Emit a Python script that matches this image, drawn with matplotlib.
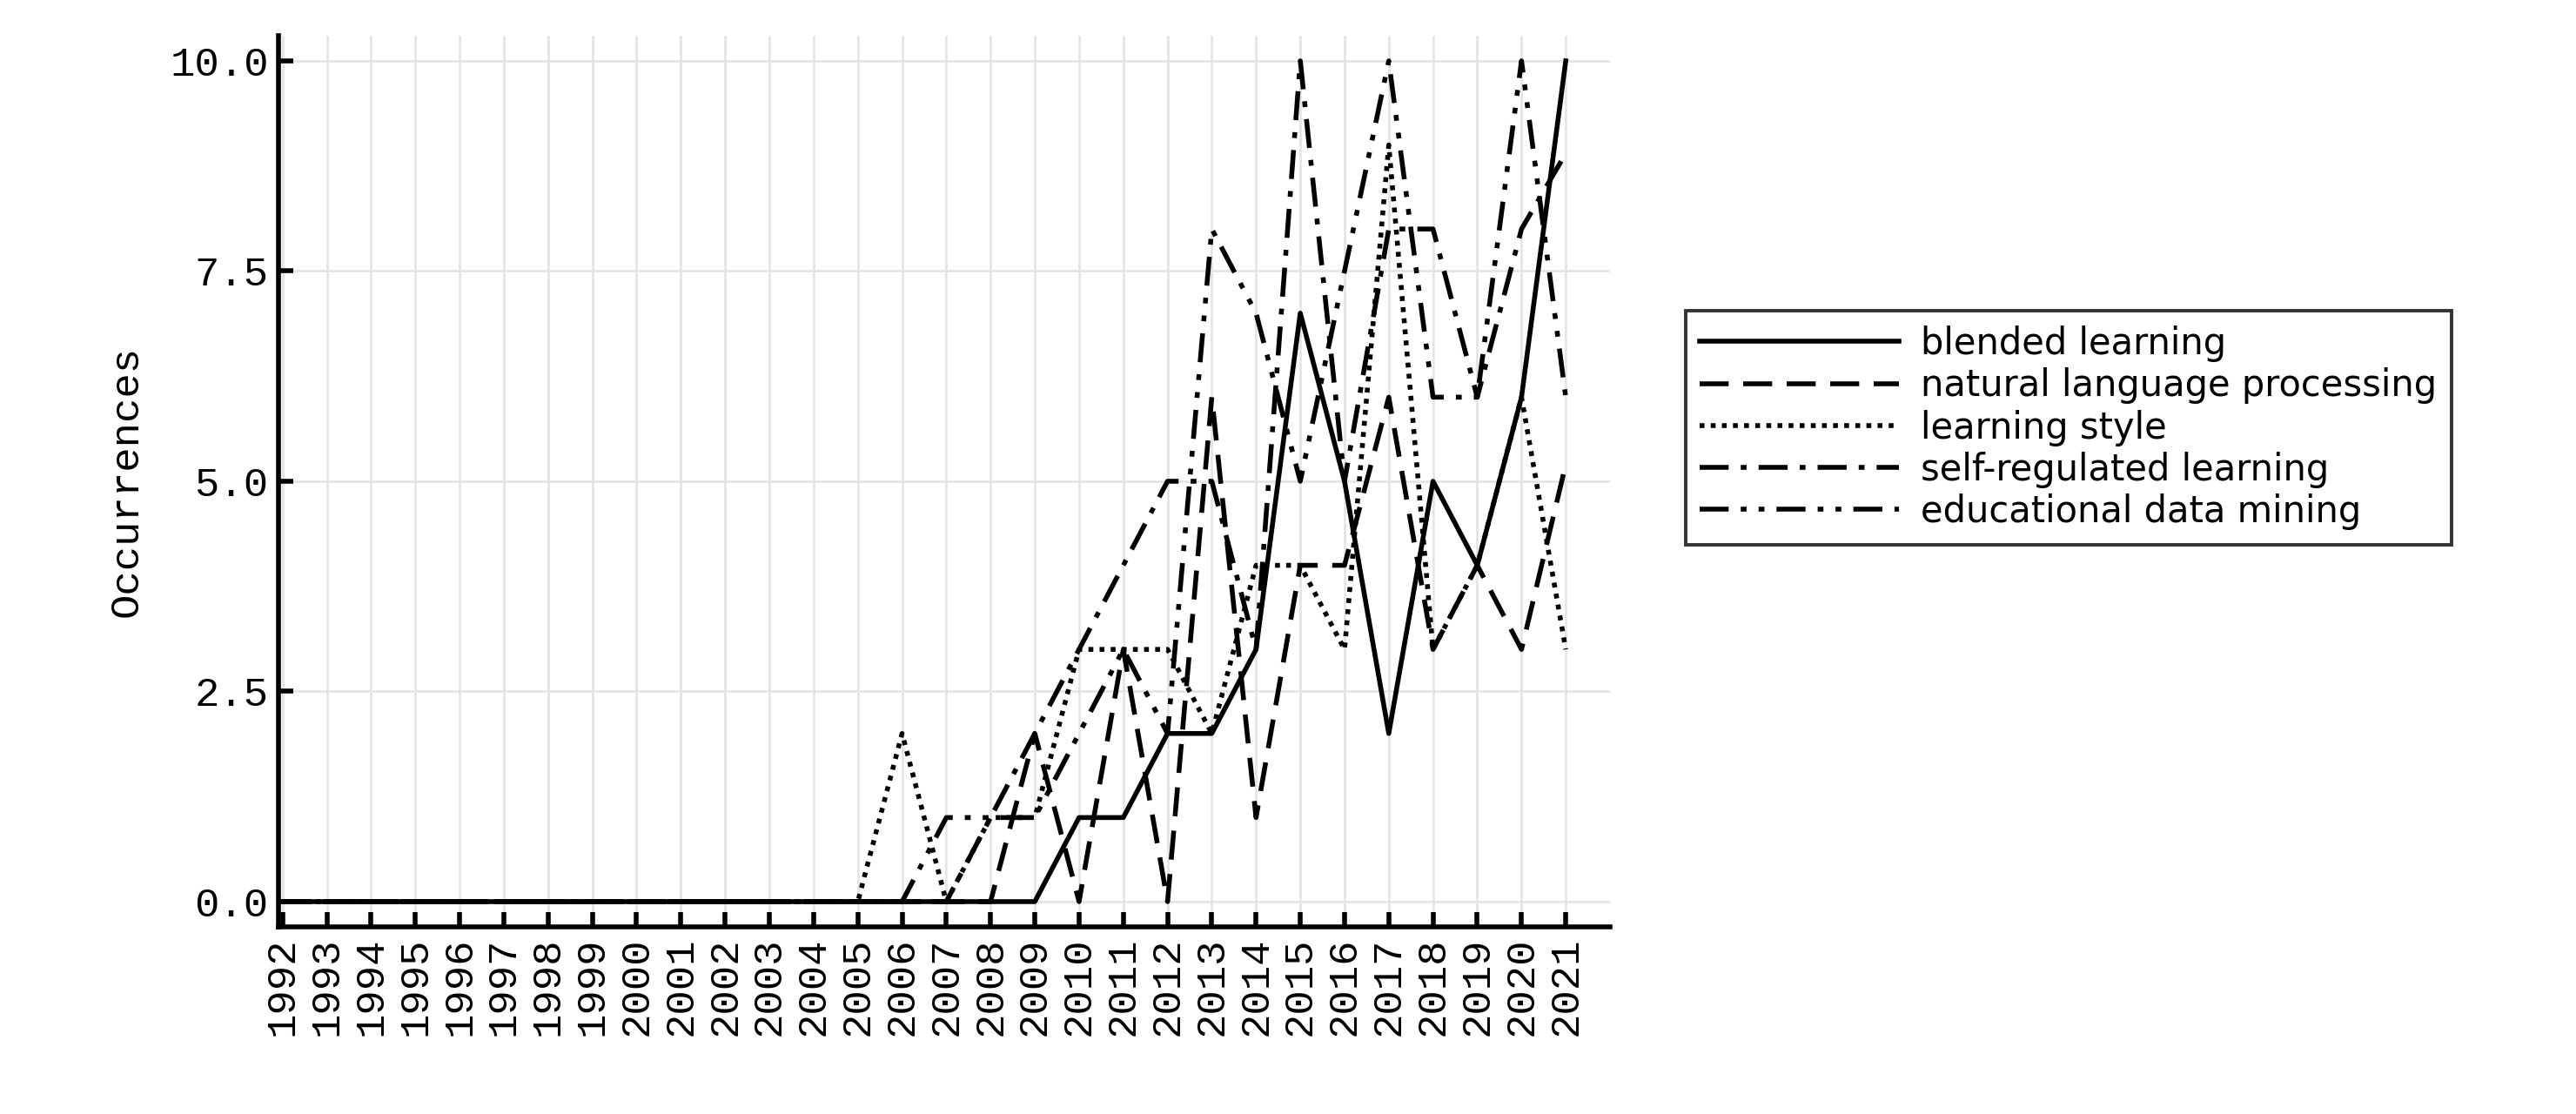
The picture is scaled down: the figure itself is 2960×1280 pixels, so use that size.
import matplotlib
matplotlib.use("Agg")
import matplotlib.pyplot as plt

years = list(range(1992, 2022))
pre = [0]*13  # 1992-2004
blended = pre + [0,0,0,0,0,1,1,2,2,3,7,5,2,5,4,6,10]
nlp     = pre + [0,0,0,0,2,0,3,0,6,1,4,4,6,3,4,3,5.2]
lstyle  = pre + [0,2,0,1,1,3,3,3,2,4,4,3,9,3,4,6,3]
srl     = pre + [0,0,0,1,2,3,4,5,5,3,10,5,8,8,6,8,8.9]
edm     = pre + [0,0,1,1,1,2,3,2,8,7,5,7.5,10,6,6,10,6]
labels = ["blended learning", "natural language processing", "learning style",
          "self-regulated learning", "educational data mining"]
styles = ["-", (0, (6, 3)), (0, (1, 1.3)), (0, (6, 2.5, 1.2, 2.5)), (0, (6, 2.5, 1.2, 2.5, 1.2, 2.5))]

fig = plt.figure(figsize=(14.8, 6.4), dpi=200)
ax = fig.add_axes([0.108, 0.168, 0.517, 0.8])
for ser, lab, ls in zip([blended, nlp, lstyle, srl, edm], labels, styles):
    ax.plot(years, ser, color="black", linestyle=ls, linewidth=2.0, label=lab)

mono = "Liberation Mono"
ax.set_xlim(1991.9, 2022)
ax.set_ylim(-0.3, 10.3)
ax.set_xticks(years)
ax.set_xticklabels([str(y) for y in years], rotation=90, family=mono, fontsize=17)
ax.set_yticks([0, 2.5, 5, 7.5, 10])
ax.set_yticklabels(["0.0", "2.5", "5.0", "7.5", "10.0"], family=mono, fontsize=17)
ax.set_ylabel("Occurrences", family=mono, fontsize=17, labelpad=10)
ax.grid(True, color="#e3e3e3", linewidth=0.9)
for s in ["top", "right"]:
    ax.spines[s].set_visible(False)
for s in ["left", "bottom"]:
    ax.spines[s].set_linewidth(2)
ax.tick_params(direction="in", length=6, width=2, pad=4)
leg = ax.legend(loc="center left", bbox_to_anchor=(1.043, 0.56), fontsize=15,
                frameon=True, fancybox=False, edgecolor="black", handlelength=5.5,
                borderpad=0.4, labelspacing=0.15, handletextpad=0.6)
leg.get_frame().set_linewidth(1.4)
fig.savefig("out.png", dpi=200, facecolor="white")
